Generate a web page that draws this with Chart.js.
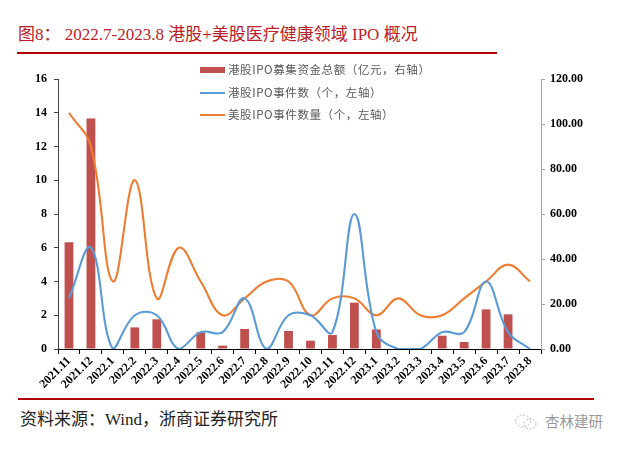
<!DOCTYPE html>
<html><head><meta charset="utf-8">
<script src="https://cdn.jsdelivr.net/npm/chart.js@4/dist/chart.umd.min.js"></script>
<style>
html,body{margin:0;padding:0;background:#fff}
body{width:625px;height:449px;position:relative;overflow:hidden;font-family:"Liberation Serif","Noto Sans CJK SC",serif}
#title{position:absolute;left:18px;top:25px;font-size:17px;line-height:20px;color:#B8202A;white-space:nowrap}
.rule{position:absolute;height:2px;background:#B00000}
#chartbox{position:absolute;left:0;top:58px;width:625px;height:338px}
#legend{position:absolute;left:200px;top:61px;font-family:"Noto Sans CJK SC",sans-serif;font-size:11.5px;color:#595959;letter-spacing:0.6px}
.li{position:relative;height:22.5px;line-height:17px;padding-left:28px;white-space:nowrap}
.sw{position:absolute;left:0;width:25px}
#source{position:absolute;left:20px;top:409px;font-size:17px;line-height:22px;color:#222;white-space:nowrap}
#wm{position:absolute;left:545px;top:411px;font-family:"Noto Sans CJK SC",sans-serif;font-size:14.5px;line-height:20px;color:#999;white-space:nowrap}
#wmicon{position:absolute;left:514px;top:413px}
</style></head>
<body>
<div id="title">图8： 2022.7-2023.8 港股+美股医疗健康领域 IPO 概况</div>
<div class="rule" style="left:17px;top:52px;width:480px"></div>
<div id="chartbox"><canvas id="c"></canvas></div>
<div id="legend">
  <div class="li"><span class="sw" style="top:6px;height:6px;background:#C0504D"></span>港股IPO募集资金总额（亿元，右轴）</div>
  <div class="li"><span class="sw" style="top:8px;height:2px;background:#5B9BD5"></span>港股IPO事件数（个，左轴）</div>
  <div class="li"><span class="sw" style="top:8px;height:2px;background:#ED7D31"></span>美股IPO事件数量（个，左轴）</div>
</div>
<div class="rule" style="left:18px;top:398px;width:576px"></div>
<div id="source">资料来源：Wind，浙商证券研究所</div>
<svg id="wmicon" width="24" height="18" viewBox="0 0 24 18"><ellipse cx="9" cy="8" rx="7.5" ry="6" fill="none" stroke="#bbb" stroke-width="1" stroke-dasharray="2 1.5"/><ellipse cx="16" cy="11" rx="6" ry="5" fill="none" stroke="#bbb" stroke-width="1" stroke-dasharray="2 1.5"/></svg>
<div id="wm">杏林建研</div>
<script>
const categories = ['2021.11','2021.12','2022.1','2022.2','2022.3','2022.4','2022.5','2022.6','2022.7','2022.8','2022.9','2022.10','2022.11','2022.12','2023.1','2023.2','2023.3','2023.4','2023.5','2023.6','2023.7','2023.8'];
const hkFunds = [47.5,102.5,0,9.6,13.2,0,7.4,1.5,8.9,0,8.0,3.7,6.2,20.6,8.7,0,0,5.9,3.1,17.6,15.4,0];
const hkCount = [3,6,0,2,2,0,1,1,3,0,2,2,1,8,1,0,0,1,1,4,1,0];
const usCount = [14,12,4,10,3,6,4,2,3,4,4,2,3,3,2,3,2,2,3,4,5,4];
const leftMax = 16, leftStep = 2;
const rightMax = 120, rightStep = 20;

const tickFont = {family:'Liberation Serif', weight:'bold', size:12};
new Chart(document.getElementById('c'), {
  data: {
    labels: categories,
    datasets: [
      {type:'bar', label:'港股IPO募集资金总额（亿元，右轴）', data:hkFunds, yAxisID:'y1', backgroundColor:'#C0504D', barPercentage:0.4, categoryPercentage:1, order:3},
      {type:'line', label:'港股IPO事件数（个，左轴）', data:hkCount, yAxisID:'y', borderColor:'#5B9BD5', borderWidth:2.1, pointRadius:0, tension:0.4, fill:false, order:1},
      {type:'line', label:'美股IPO事件数量（个，左轴）', data:usCount, yAxisID:'y', borderColor:'#ED7D31', borderWidth:2.1, pointRadius:0, tension:0.4, fill:false, order:2}
    ]
  },
  options: {
    responsive:true, maintainAspectRatio:false, animation:false, devicePixelRatio:1,
    layout:{padding:{top:21,left:0,right:0,bottom:0}},
    plugins:{legend:{display:false}, tooltip:{enabled:false}},
    scales:{
      x:{offset:true,
         grid:{display:true, drawOnChartArea:false, drawTicks:true, tickLength:5, color:'#000', offset:true},
         border:{display:true, color:'#000', width:1},
         ticks:{font:tickFont, color:'#000', minRotation:45, maxRotation:45, autoSkip:false, padding:0},
         afterFit(s){ s.height = 47; }},
      y:{position:'left', min:0, max:leftMax,
         ticks:{stepSize:leftStep, font:tickFont, color:'#000', padding:7},
         grid:{drawOnChartArea:false, drawTicks:true, tickLength:4, color:'#404040'},
         border:{display:true, color:'#404040', width:1},
         afterFit(s){ s.width = 58; }},
      y1:{position:'right', min:0, max:rightMax,
         ticks:{stepSize:rightStep, font:tickFont, color:'#000', padding:5, callback:v=>Number(v).toFixed(2)},
         grid:{drawOnChartArea:false, drawTicks:true, tickLength:4, color:'#A6A6A6'},
         border:{display:true, color:'#A6A6A6', width:1},
         afterFit(s){ s.width = 84; }}
    }
  }
});
</script>
</body></html>
